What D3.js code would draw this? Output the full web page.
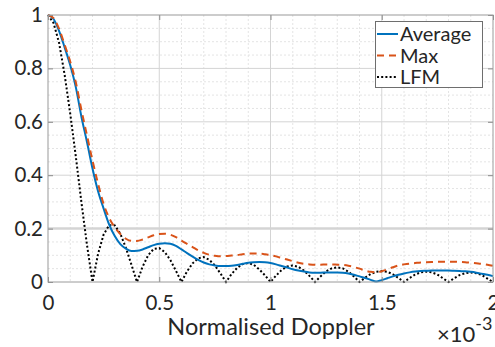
<!DOCTYPE html>
<html>
<head>
<meta charset="utf-8">
<script src="https://cdn.jsdelivr.net/npm/d3@7"></script>
<style>
  html, body { margin: 0; padding: 0; background: #fff; }
  svg { display: block; }
  text { font-family: Lato, "Noto Sans", sans-serif; fill: #262626; }
</style>
</head>
<body>
<svg id="chart" width="495" height="347"></svg>
<script>
// Normalised Doppler axis samples (units of 1e-3)
const doppler = d3.range(0, 81).map(i => +(i * 0.025).toFixed(3));

// Average ambiguity cut across the waveform set
const average = [
  1.000, 0.985, 0.940, 0.878, 0.812, 0.730, 0.620, 0.525, 0.425, 0.340,
  0.275, 0.215, 0.172, 0.142, 0.125, 0.116, 0.117, 0.122, 0.130, 0.138,
  0.143, 0.145, 0.143, 0.135, 0.122, 0.108, 0.095, 0.083, 0.073, 0.066,
  0.062, 0.060, 0.060, 0.061, 0.064, 0.068, 0.072, 0.074, 0.075, 0.074,
  0.071, 0.066, 0.060, 0.054, 0.048, 0.043, 0.039, 0.036, 0.035, 0.035,
  0.036, 0.036, 0.036, 0.035, 0.032, 0.027, 0.021, 0.015, 0.008, 0.002,
  0.007, 0.014, 0.021, 0.027, 0.032, 0.036, 0.039, 0.041, 0.042, 0.043,
  0.043, 0.043, 0.043, 0.042, 0.041, 0.040, 0.038, 0.035, 0.031, 0.027,
  0.022
];

// Worst case (maximum) across the waveform set
const maximum = [
  1.000, 0.988, 0.948, 0.888, 0.825, 0.748, 0.645, 0.550, 0.455, 0.368,
  0.292, 0.240, 0.205, 0.180, 0.162, 0.154, 0.154, 0.159, 0.167, 0.175,
  0.180, 0.181, 0.177, 0.168, 0.155, 0.143, 0.131, 0.119, 0.109, 0.102,
  0.098, 0.096, 0.097, 0.099, 0.101, 0.104, 0.106, 0.107, 0.107, 0.104,
  0.101, 0.096, 0.090, 0.084, 0.078, 0.072, 0.068, 0.066, 0.065, 0.065,
  0.066, 0.066, 0.065, 0.064, 0.061, 0.056, 0.050, 0.043, 0.038, 0.036,
  0.040, 0.047, 0.055, 0.062, 0.066, 0.069, 0.071, 0.073, 0.074, 0.075,
  0.076, 0.076, 0.076, 0.076, 0.075, 0.074, 0.072, 0.070, 0.068, 0.065,
  0.061
];

// Reference LFM pulse
const lfm = [
  1.000, 0.970, 0.895, 0.775, 0.630, 0.470, 0.300, 0.140, 0.000,
  0.105, 0.178, 0.213, 0.212, 0.181, 0.128, 0.065, 0.000,
  0.057, 0.100, 0.124, 0.127, 0.112, 0.082, 0.042, 0.000,
  0.040, 0.070, 0.089, 0.093, 0.083, 0.062, 0.032, 0.000,
  0.030, 0.053, 0.067, 0.071, 0.064, 0.047, 0.025, 0.000,
  0.024, 0.045, 0.058, 0.062, 0.057, 0.043, 0.023, 0.000,
  0.021, 0.040, 0.051, 0.055, 0.051, 0.039, 0.021, 0.000,
  0.016, 0.030, 0.038, 0.041, 0.038, 0.029, 0.015, 0.000,
  0.015, 0.028, 0.036, 0.039, 0.036, 0.028, 0.014, 0.000,
  0.014, 0.026, 0.033, 0.036, 0.033, 0.026, 0.013, 0.000
];

const xTicks = [0, 0.5, 1, 1.5, 2];
const xTickLabels = ["0", "0.5", "1", "1.5", "2"];
const yTicks = [0, 0.2, 0.4, 0.6, 0.8, 1];
const yTickLabels = ["0", "0.2", "0.4", "0.6", "0.8", "1"];
const seriesNames = ["Average", "Max", "LFM"];

const svg = d3.select("#chart");
const plotL = 48, plotR = 493, plotT = 15, plotB = 282;
const x = d3.scaleLinear().domain([0, 2]).range([plotL, plotR]);
const y = d3.scaleLinear().domain([0, 1]).range([plotB, plotT]);

// minor grid
const grid = svg.append("g");
d3.range(0, 21).map(i => i * 0.1).filter(v => Math.abs(v * 2 - Math.round(v * 2)) > 1e-6)
  .forEach(v => grid.append("line")
    .attr("x1", x(v)).attr("x2", x(v)).attr("y1", plotT).attr("y2", plotB)
    .attr("stroke", "#e4e4e4").attr("stroke-dasharray", "2,2"));
d3.range(0, 21).map(i => i * 0.05).filter(v => Math.abs(v * 5 - Math.round(v * 5)) > 1e-6)
  .forEach(v => grid.append("line")
    .attr("x1", plotL).attr("x2", plotR).attr("y1", y(v)).attr("y2", y(v))
    .attr("stroke", "#e4e4e4").attr("stroke-dasharray", "2,2"));
// major grid
xTicks.slice(1, -1).forEach(v => grid.append("line")
  .attr("x1", x(v)).attr("x2", x(v)).attr("y1", plotT).attr("y2", plotB)
  .attr("stroke", "#d4d4d4"));
yTicks.slice(1, -1).forEach(v => grid.append("line")
  .attr("x1", plotL).attr("x2", plotR).attr("y1", y(v)).attr("y2", y(v))
  .attr("stroke", "#d4d4d4").attr("stroke-width", v === 0.2 ? 2.5 : 1));

// series
const line = d3.line().x((d, i) => x(doppler[i])).y(d => y(d));
const smooth = d3.line().x((d, i) => x(doppler[i])).y(d => y(d)).curve(d3.curveMonotoneX);

svg.append("path").datum(lfm).attr("d", line)
  .attr("fill", "none").attr("stroke", "#000").attr("stroke-width", 2)
  .attr("stroke-dasharray", "2,2.2");
svg.append("path").datum(average).attr("d", smooth)
  .attr("fill", "none").attr("stroke", "#0072BD").attr("stroke-width", 2);
svg.append("path").datum(maximum).attr("d", smooth)
  .attr("fill", "none").attr("stroke", "#D95319").attr("stroke-width", 2)
  .attr("stroke-dasharray", "7,5");

// axes (ticks point inward on all four sides)
const fmtX = d => xTickLabels[xTicks.indexOf(d)];
const fmtY = d => yTickLabels[yTicks.indexOf(d)];
const axB = svg.append("g").attr("transform", `translate(0,${plotB})`)
  .call(d3.axisBottom(x).tickValues(xTicks).tickFormat(fmtX).tickSizeInner(-5).tickSizeOuter(0).tickPadding(13));
const axT = svg.append("g").attr("transform", `translate(0,${plotT})`)
  .call(d3.axisTop(x).tickValues(xTicks).tickFormat("").tickSizeInner(-5).tickSizeOuter(0));
const axL = svg.append("g").attr("transform", `translate(${plotL},0)`)
  .call(d3.axisLeft(y).tickValues(yTicks).tickFormat(fmtY).tickSizeInner(-5).tickSizeOuter(0).tickPadding(5));
const axR = svg.append("g").attr("transform", `translate(${plotR},0)`)
  .call(d3.axisRight(y).tickValues(yTicks).tickFormat("").tickSizeInner(-5).tickSizeOuter(0));
[axB, axT, axL, axR].forEach(g => {
  g.select(".domain").remove();
  g.selectAll(".tick line").attr("stroke", "#8a8a8a");
  g.selectAll(".tick text").attr("font-size", 20.5).attr("fill", "#262626")
    .style("font-family", "Lato, 'Noto Sans', sans-serif");
});
svg.append("rect").attr("x", plotL).attr("y", plotT)
  .attr("width", plotR - plotL).attr("height", plotB - plotT)
  .attr("fill", "none").attr("stroke", "#9a9a9a").attr("stroke-width", 1);

// axis label and exponent
svg.append("text").attr("x", 271).attr("y", 335).attr("text-anchor", "middle")
  .attr("font-size", 23.5).text("Normalised Doppler");
const expo = svg.append("text").attr("x", 437).attr("y", 342).attr("font-size", 22);
expo.append("tspan").text("\u00d710");
expo.append("tspan").attr("dy", -12).attr("font-size", 18).text("-3");

// legend
const lg = svg.append("g");
lg.append("rect").attr("x", 375.5).attr("y", 21.5).attr("width", 107).attr("height", 66)
  .attr("fill", "#fff").attr("stroke", "#6e6e6e");
const styles = [
  { stroke: "#0072BD", dash: null },
  { stroke: "#D95319", dash: "7,5" },
  { stroke: "#000", dash: "2,2.2" }
];
seriesNames.forEach((name, i) => {
  const cy = 34 + i * 21.5;
  lg.append("line").attr("x1", 377).attr("x2", 398).attr("y1", cy).attr("y2", cy)
    .attr("stroke", styles[i].stroke).attr("stroke-width", 2)
    .attr("stroke-dasharray", styles[i].dash);
  lg.append("text").attr("x", 400).attr("y", cy).attr("dy", "0.35em")
    .attr("font-size", 20).attr("fill", "#000").text(name);
});
</script>
</body>
</html>
